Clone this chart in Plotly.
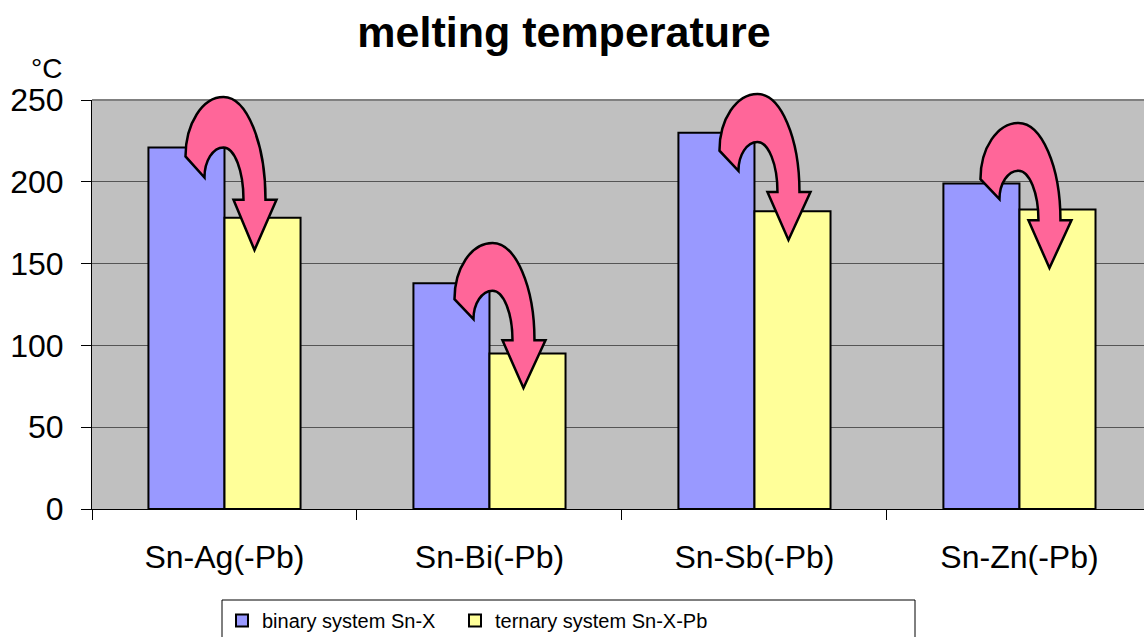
import plotly.graph_objects as go

# ---- data ----
categories = ["Sn-Ag(-Pb)", "Sn-Bi(-Pb)", "Sn-Sb(-Pb)", "Sn-Zn(-Pb)"]
binary = [221, 138, 230, 199]
ternary = [178, 95, 182, 183]
series_names = ["binary system Sn-X", "ternary system Sn-X-Pb"]
y_ticks = [0, 50, 100, 150, 200, 250]

# decorative curved arrows (annotation geometry, in data units of the y axis)
arrow_top = [251.8, 162.6, 253.7, 236.0]
arrow_tip = [158.3, 74.0, 164.4, 147.3]
arrow_shift_px = [0, 4, 4, 0]

# ---- layout constants ----
W, H = 1144, 637
ML, MR, MT, MB = 92, 0, 100, 128
XR = [-0.5, 3.47]
YR = [0, 250]
PW = W - ML - MR
PH = H - MT - MB
FONT = "Arial, Liberation Sans, sans-serif"

fig = go.Figure()
fig.add_trace(go.Bar(x=categories, y=binary, name=series_names[0], legend="legend",
                     marker=dict(color="#9999FF", line=dict(color="black", width=2))))
fig.add_trace(go.Bar(x=categories, y=ternary, name=series_names[1], legend="legend2",
                     marker=dict(color="#FFFF99", line=dict(color="black", width=2))))


def to_paper(i, dx_px, val):
    x = (i - XR[0]) / (XR[1] - XR[0]) + dx_px / PW
    y = (val - YR[0]) / (YR[1] - YR[0])
    return x, y


# arrow template: (dx in px from category centre, t fraction from top to tip)
template = [
    ("M", [(41, .671)]),
    ("C", [(41, .30), (22.2, 0), (-1, 0)]),
    ("C", [(-22, 0), (-39, .174), (-39, .388)]),
    ("L", [(-20, .526)]),
    ("C", [(-20, .417), (-11.5, .329), (-1, .329)]),
    ("C", [(10, .329), (19, .482), (19, .671)]),
    ("L", [(9, .671)]),
    ("L", [(30, 1.0)]),
    ("L", [(52, .671)]),
]

shapes = []
for i in range(len(categories)):
    top, tip, sh = arrow_top[i], arrow_tip[i], arrow_shift_px[i]
    parts = []
    for cmd, pts in template:
        coords = []
        for dx, t in pts:
            px, py = to_paper(i, dx + sh, top - t * (top - tip))
            coords.append(f"{px:.5f},{py:.5f}")
        parts.append(cmd + " " + " ".join(coords))
    path = " ".join(parts) + " Z"
    shapes.append(dict(type="path", path=path, xref="paper", yref="paper",
                       fillcolor="#FF6699", line=dict(color="black", width=2.5),
                       layer="above"))

# plot-area top border
shapes.append(dict(type="line", xref="paper", yref="paper", x0=0, x1=1, y0=1, y1=1,
                   line=dict(color="#808080", width=2), layer="below"))
# legend frame
shapes.append(dict(type="rect", xref="paper", yref="paper",
                   x0=(222 - ML) / PW, x1=(915 - ML) / PW,
                   y0=(H - MB - 600) / PH, y1=(H - MB - 645) / PH,
                   line=dict(color="black", width=1), fillcolor="white", layer="below"))

legend_common = dict(orientation="h", xref="container", yref="container",
                     xanchor="left", y=1 - 601 / H, yanchor="top",
                     bgcolor="rgba(0,0,0,0)", font=dict(size=20))

fig.update_layout(
    width=W, height=H,
    margin=dict(l=ML, r=MR, t=MT, b=MB, pad=0, autoexpand=False),
    paper_bgcolor="white", plot_bgcolor="#C0C0C0",
    font=dict(family=FONT, color="black"),
    barmode="group", bargap=0.426, bargroupgap=0,
    title=dict(text="melting temperature", x=564 / W, xanchor="center",
               y=1 - 32 / H, yanchor="middle", yref="container",
               font=dict(size=43, weight="bold", family=FONT)),
    xaxis=dict(type="category", range=XR, tickson="boundaries", ticks="outside",
               ticklen=10, tickcolor="black", showline=True, linecolor="black",
               linewidth=1, showgrid=False, tickfont=dict(size=32),
               ticklabelstandoff=20, automargin=False),
    yaxis=dict(range=YR, tickvals=y_ticks, ticks="outside", ticklen=10,
               tickcolor="black", showline=True, linecolor="black", linewidth=1,
               showgrid=True, gridcolor="#555555", gridwidth=1, zeroline=False,
               tickfont=dict(size=32), ticklabelstandoff=11, automargin=False),
    legend=dict(x=222 / W, **legend_common),
    legend2=dict(x=455 / W, **legend_common),
    annotations=[dict(text="°C", xref="paper", yref="paper",
                      x=(64 - ML) / PW, xanchor="right",
                      y=1 + 32 / PH, yanchor="middle",
                      showarrow=False, font=dict(size=28))],
    shapes=shapes,
    showlegend=True,
)

fig.write_html("out.html")
